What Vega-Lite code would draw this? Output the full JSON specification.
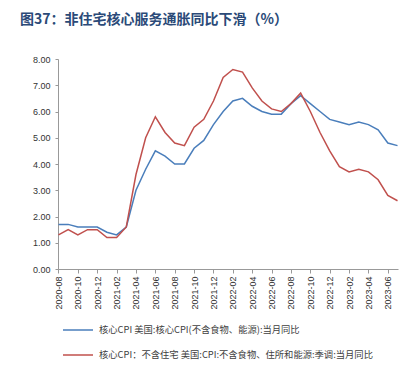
{
  "$schema": "https://vega.github.io/schema/vega-lite/v6.json",
  "width": 340,
  "height": 210,
  "autosize": {"type": "none"},
  "padding": {"left": 58, "top": 59, "right": 19, "bottom": 116},
  "background": "white",
  "title": {
    "text": "图37：非住宅核心服务通胀同比下滑（%）",
    "anchor": "start",
    "frame": "group",
    "dx": -38,
    "offset": 28,
    "font": "Noto Sans CJK SC",
    "fontSize": 14,
    "fontWeight": "bold",
    "color": "#2B4A78"
  },
  "datasets": {
    "cpi": [
      {"month": "2020-08", "core": 1.7, "ex": 1.3},
      {"month": "2020-09", "core": 1.7, "ex": 1.5},
      {"month": "2020-10", "core": 1.6, "ex": 1.3},
      {"month": "2020-11", "core": 1.6, "ex": 1.5},
      {"month": "2020-12", "core": 1.6, "ex": 1.5},
      {"month": "2021-01", "core": 1.4, "ex": 1.2},
      {"month": "2021-02", "core": 1.3, "ex": 1.2},
      {"month": "2021-03", "core": 1.6, "ex": 1.6},
      {"month": "2021-04", "core": 3.0, "ex": 3.6},
      {"month": "2021-05", "core": 3.8, "ex": 5.0},
      {"month": "2021-06", "core": 4.5, "ex": 5.8},
      {"month": "2021-07", "core": 4.3, "ex": 5.2},
      {"month": "2021-08", "core": 4.0, "ex": 4.8},
      {"month": "2021-09", "core": 4.0, "ex": 4.7},
      {"month": "2021-10", "core": 4.6, "ex": 5.4},
      {"month": "2021-11", "core": 4.9, "ex": 5.7},
      {"month": "2021-12", "core": 5.5, "ex": 6.4},
      {"month": "2022-01", "core": 6.0, "ex": 7.3},
      {"month": "2022-02", "core": 6.4, "ex": 7.6},
      {"month": "2022-03", "core": 6.5, "ex": 7.5},
      {"month": "2022-04", "core": 6.2, "ex": 6.9},
      {"month": "2022-05", "core": 6.0, "ex": 6.4},
      {"month": "2022-06", "core": 5.9, "ex": 6.1},
      {"month": "2022-07", "core": 5.9, "ex": 6.0},
      {"month": "2022-08", "core": 6.3, "ex": 6.3},
      {"month": "2022-09", "core": 6.6, "ex": 6.7},
      {"month": "2022-10", "core": 6.3, "ex": 6.0},
      {"month": "2022-11", "core": 6.0, "ex": 5.2},
      {"month": "2022-12", "core": 5.7, "ex": 4.5},
      {"month": "2023-01", "core": 5.6, "ex": 3.9},
      {"month": "2023-02", "core": 5.5, "ex": 3.7},
      {"month": "2023-03", "core": 5.6, "ex": 3.8},
      {"month": "2023-04", "core": 5.5, "ex": 3.7},
      {"month": "2023-05", "core": 5.3, "ex": 3.4},
      {"month": "2023-06", "core": 4.8, "ex": 2.8},
      {"month": "2023-07", "core": 4.7, "ex": 2.6}
    ]
  },
  "data": {"name": "cpi"},
  "transform": [
    {"fold": ["core", "ex"], "as": ["key", "value"]},
    {"lookup": "key", "from": {"data": {"values": [
      {"key": "core", "series": "核心CPI 美国:核心CPI(不含食物、能源):当月同比"},
      {"key": "ex", "series": "核心CPI：不含住宅 美国:CPI:不含食物、住所和能源:季调:当月同比"}
    ]}, "key": "key", "fields": ["series"]}}
  ],
  "mark": {"type": "line", "strokeWidth": 1.5},
  "encoding": {
    "x": {
      "field": "month",
      "type": "ordinal",
      "scale": {"type": "point", "padding": 0.05},
      "axis": {
        "title": null,
        "values": ["2020-08","2020-10","2020-12","2021-02","2021-04","2021-06","2021-08","2021-10","2021-12","2022-02","2022-04","2022-06","2022-08","2022-10","2022-12","2023-02","2023-04","2023-06"],
        "labelAngle": -90,
        "labelFont": "Liberation Sans",
        "labelFontSize": 9,
        "labelColor": "#333333",
        "labelPadding": 3,
        "domainColor": "#999999",
        "tickColor": "#999999",
        "tickSize": 4,
        "grid": false
      }
    },
    "y": {
      "field": "value",
      "type": "quantitative",
      "scale": {"domain": [0, 8], "nice": false},
      "axis": {
        "title": null,
        "values": [0,1,2,3,4,5,6,7,8],
        "format": ".2f",
        "labelFont": "Liberation Sans",
        "labelFontSize": 9,
        "labelColor": "#333333",
        "labelPadding": 5,
        "domainColor": "#999999",
        "tickColor": "#999999",
        "tickSize": 3,
        "grid": false
      }
    },
    "color": {
      "field": "series",
      "type": "nominal",
      "scale": {
        "domain": ["核心CPI 美国:核心CPI(不含食物、能源):当月同比", "核心CPI：不含住宅 美国:CPI:不含食物、住所和能源:季调:当月同比"],
        "range": ["#4A7EBB", "#C0504D"]
      },
      "legend": {
        "title": null,
        "orient": "none",
        "legendX": 4,
        "legendY": 255,
        "direction": "vertical",
        "symbolType": "stroke",
        "symbolSize": 900,
        "symbolStrokeWidth": 1.5,
        "labelFont": "Noto Sans CJK SC",
        "labelFontSize": 9.3,
        "labelColor": "#404040",
        "labelOffset": 5,
        "labelLimit": 400,
        "rowPadding": 3
      }
    }
  },
  "config": {"view": {"stroke": null}}
}
